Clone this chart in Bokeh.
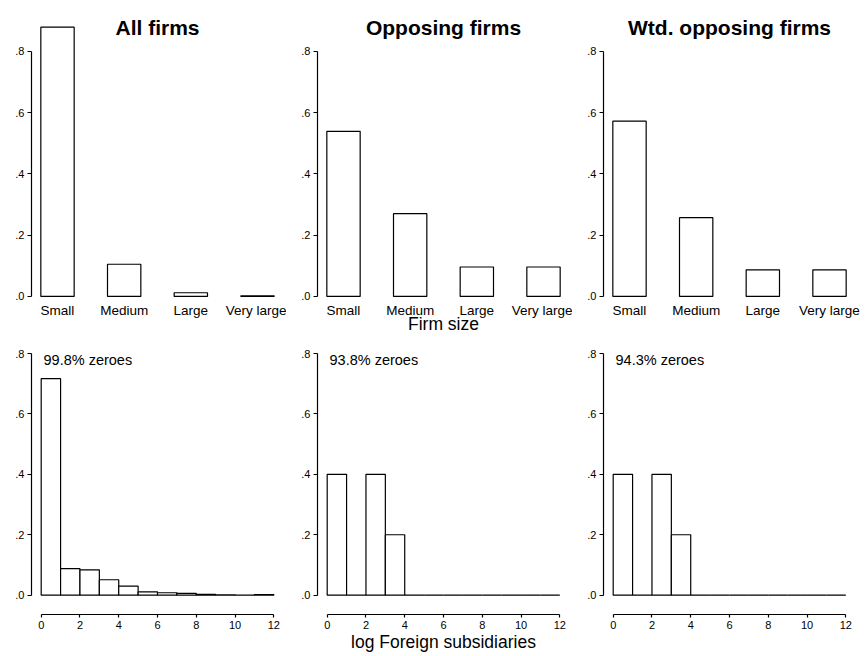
from bokeh.plotting import figure
from bokeh.layouts import column, row
from bokeh.models import Range1d, FixedTicker, Label
from bokeh.embed import file_html
from bokeh.resources import INLINE

# ---- data ----
size_cats = ["Small", "Medium", "Large", "Very large"]
size_pos = [1, 2, 3, 4]
all_firms = [0.879, 0.105, 0.012, 0.002]
opp_firms = [0.539, 0.270, 0.096, 0.096]
wtd_firms = [0.572, 0.257, 0.087, 0.087]
titles = ["All firms", "Opposing firms", "Wtd. opposing firms"]

bin_left = [0, 1, 2, 3, 4, 5, 6, 7, 8, 9, 10, 11]
bin_right = [1, 2, 3, 4, 5, 6, 7, 8, 9, 10, 11, 12]
all_hist = [0.717, 0.088, 0.084, 0.051, 0.030, 0.011, 0.008, 0.006, 0.003, 0.001, 0.0005, 0.002]
opp_hist = [0.4, 0.0, 0.4, 0.2, 0, 0, 0, 0, 0, 0, 0, 0]
wtd_hist = [0.4, 0.0, 0.4, 0.2, 0, 0, 0, 0, 0, 0, 0, 0]
zero_notes = ["99.8% zeroes", "93.8% zeroes", "94.3% zeroes"]

y_ticks = [0, 0.2, 0.4, 0.6, 0.8]
y_tick_labels = [".0", ".2", ".4", ".6", ".8"]
hist_ticks = [0, 2, 4, 6, 8, 10, 12]

FONT = "Liberation Sans"
col_widths = [286, 286, 293]
right_borders = [3, 3, 10]


def style_common(p):
    p.toolbar_location = None
    p.xgrid.visible = False
    p.ygrid.visible = False
    p.outline_line_color = None
    p.background_fill_color = "white"
    p.border_fill_color = "white"
    ya = p.yaxis[0]
    ya.ticker = FixedTicker(ticks=y_ticks)
    ya.major_label_overrides = {t: l for t, l in zip(y_ticks, y_tick_labels)}
    ya.bounds = (0, 0.8)
    ya.axis_line_color = "black"
    ya.axis_line_width = 1.2
    ya.major_tick_out = 4
    ya.major_tick_in = 0
    ya.major_tick_line_width = 1.2
    ya.minor_tick_line_color = None
    ya.major_label_text_font = FONT
    ya.major_label_text_font_size = "11px"
    ya.major_label_text_color = "black"
    ya.major_label_standoff = 3


top_figs = []
for i, (vals, title) in enumerate(zip([all_firms, opp_firms, wtd_firms], titles)):
    p = figure(output_backend="svg", toolbar_location=None,
               frame_width=252, frame_height=288,
               width=col_widths[i], height=335,
               x_range=Range1d(0.61, 4.39), y_range=Range1d(-0.01, 0.93),
               min_border_left=31, min_border_right=right_borders[i],
               min_border_top=11, min_border_bottom=36)
    style_common(p)
    p.vbar(x=size_pos, top=vals, bottom=0, width=0.5,
           fill_color="white", line_color="black", line_width=1.2)
    xa = p.xaxis[0]
    xa.ticker = FixedTicker(ticks=size_pos)
    xa.major_label_overrides = {k: c for k, c in zip(size_pos, size_cats)}
    xa.axis_line_color = None
    xa.major_tick_line_color = None
    xa.minor_tick_line_color = None
    xa.major_label_text_font = FONT
    xa.major_label_text_font_size = "13.5px"
    xa.major_label_text_color = "black"
    xa.major_label_standoff = -3
    if i == 1:
        xa.axis_label = "Firm size"
        xa.axis_label_text_font = FONT
        xa.axis_label_text_font_size = "17.5px"
        xa.axis_label_text_font_style = "normal"
        xa.axis_label_text_color = "black"
        xa.axis_label_standoff = -7
    p.add_layout(Label(x=2.5, y=0.878, text=title, text_align="center",
                       text_baseline="middle", text_font=FONT,
                       text_font_size="21px", text_font_style="bold",
                       text_color="black"))
    top_figs.append(p)

bottom_figs = []
for i, (vals, note) in enumerate(zip([all_hist, opp_hist, wtd_hist], zero_notes)):
    p = figure(output_backend="svg", toolbar_location=None,
               frame_width=252, frame_height=270,
               width=col_widths[i], height=319,
               x_range=Range1d(-0.5, 12.5), y_range=Range1d(-0.064, 0.83),
               min_border_left=31, min_border_right=right_borders[i],
               min_border_top=8, min_border_bottom=41)
    style_common(p)
    p.quad(left=bin_left, right=bin_right, top=vals, bottom=0,
           fill_color="white", line_color="black", line_width=1.2)
    xa = p.xaxis[0]
    xa.ticker = FixedTicker(ticks=hist_ticks)
    xa.bounds = (0, 12)
    xa.axis_line_color = "black"
    xa.axis_line_width = 1.2
    xa.major_tick_out = 3
    xa.major_tick_in = 0
    xa.major_tick_line_width = 1.2
    xa.minor_tick_line_color = None
    xa.major_label_text_font = FONT
    xa.major_label_text_font_size = "11px"
    xa.major_label_text_color = "black"
    xa.major_label_standoff = 3
    if i == 1:
        xa.axis_label = "log Foreign subsidiaries"
        xa.axis_label_text_font = FONT
        xa.axis_label_text_font_size = "17.5px"
        xa.axis_label_text_font_style = "normal"
        xa.axis_label_text_color = "black"
        xa.axis_label_standoff = 0
    p.add_layout(Label(x=0.12, y=0.778, text=note, text_align="left",
                       text_baseline="middle", text_font=FONT,
                       text_font_size="14.5px", text_color="black"))
    bottom_figs.append(p)

layout = column(row(*top_figs), row(*bottom_figs))
open("out.html", "w").write(file_html(layout, INLINE))
